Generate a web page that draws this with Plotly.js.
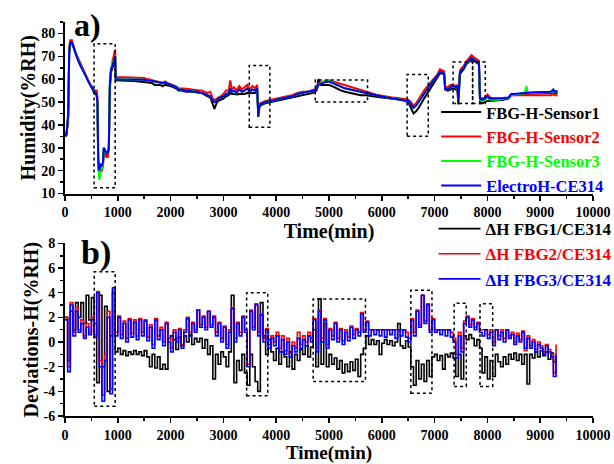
<!DOCTYPE html>
<html><head><meta charset="utf-8">
<script src="https://cdn.plot.ly/plotly-3.0.1.min.js"></script>
<style>html,body{margin:0;padding:0;background:#fff}</style>
</head><body><div id="chart" style="width:614px;height:464px"></div>
<script>
// ---------- panel a) humidity ----------
const tHum = [
 0, 30, 60, 80, 100, 130, 160, 200, 250, 300,
 350, 400, 450, 500, 550, 600, 615, 630, 650, 680,
 700, 720, 735, 750, 780, 810, 830, 850, 870, 900,
 930, 950, 960, 1000, 1100, 1200, 1300, 1400, 1500, 1550,
 1600, 1650, 1700, 1800, 1850, 1900, 1950, 2000, 2100, 2150,
 2200, 2300, 2400, 2500, 2600, 2700, 2750, 2800, 2830, 2870,
 2900, 2950, 3000, 3050, 3100, 3130, 3160, 3200, 3250, 3300,
 3350, 3400, 3450, 3500, 3550, 3600, 3640, 3660, 3680, 3700,
 3750, 3800, 3900, 4000, 4100, 4200, 4300, 4400, 4500, 4600,
 4700, 4760, 4800, 4850, 4900, 5000, 5100, 5200, 5300, 5400,
 5500, 5600, 5700, 5800, 5900, 6000, 6100, 6200, 6300, 6400,
 6500, 6550, 6600, 6650, 6700, 6800, 6900, 7000, 7050, 7100,
 7150, 7180, 7200, 7250, 7300, 7350, 7400, 7430, 7450, 7480,
 7500, 7550, 7600, 7650, 7700, 7750, 7800, 7840, 7860, 7900,
 7950, 8000, 8050, 8100, 8200, 8300, 8400, 8450, 8500, 8600,
 8700, 8740, 8760, 8800, 8900, 9000, 9100, 9200, 9250, 9270,
 9300, 9330];

const humSensor1 = [
 35, 35.5, 44, 71, 76, 76, 74.5, 71.5, 69, 66.5,
 64.5, 62, 59, 56.5, 54, 53, 49, 22, 18, 22,
 21, 23, 30, 28, 27, 27.5, 30, 57, 63, 65,
 68, 69, 59.5, 59.5, 59.5, 59.3, 59.2, 59, 58.8, 58.5,
 58.5, 58.3, 57.5, 57.5, 57, 57.5, 57.2, 57, 56, 55,
 55, 54.5, 54.5, 54.2, 53.8, 52.5, 52, 49, 47, 49.5,
 50.5, 51, 51.5, 52.5, 53, 54, 53.5, 53.5, 53.3, 53.5,
 53.5, 53.5, 54, 53.8, 54, 54, 55, 43.5, 47.5, 48.5,
 49, 49.5, 50, 50.5, 51, 51.5, 52, 52.5, 53, 53.5,
 54, 55, 60, 57.5, 57.5, 57.5, 56.5, 55.3, 54.5, 54,
 53.5, 53, 53, 52.8, 52.3, 52, 51.8, 51.5, 51.2, 50.8,
 50, 47.5, 45, 46, 47.5, 51.5, 55, 59, 60.5, 62.5,
 62.5, 62, 55.5, 55, 55.5, 56, 55.5, 56, 49, 62,
 63, 64.3, 66.5, 67.5, 68.8, 68, 67, 66.5, 49.5, 49.5,
 50, 50.5, 50.5, 50.5, 50.8, 51, 51.5, 53, 53, 53.2,
 53.5, 53.5, 53.5, 53.7, 53.8, 53.8, 54, 54, 54.5, 54,
 54, 54];

const humSensor2 = [
 35, 37, 40, 74, 77, 77, 74.5, 71.5, 68.5, 66,
 64, 61.5, 59, 57, 55, 55, 52, 22, 18, 20,
 20, 22, 29, 28, 26, 26, 29, 56, 63, 68,
 71, 73, 61, 60.8, 60.8, 60.8, 60.8, 60.8, 60.5, 60,
 60, 59.5, 59.3, 58.8, 58.5, 59, 58.2, 57.8, 57, 56,
 56, 55.8, 55.5, 55.2, 55, 54, 54.5, 51.5, 51, 51.3,
 52, 52.5, 53.5, 55, 55, 59.5, 55.5, 56.5, 55, 57,
 55.5, 56.5, 57.5, 55.5, 57, 56, 57.5, 45, 49, 49.5,
 50, 50.5, 51, 51.5, 52, 52.5, 53, 54, 54.5, 54.5,
 55.3, 55.8, 58, 58.5, 59, 59.5, 58.8, 58, 57.3, 56.5,
 56, 55.3, 54.5, 53.8, 53.2, 52.8, 52.3, 52, 51.8, 51.5,
 51, 50, 48.5, 49.5, 51.5, 55, 58, 61, 62, 64.3,
 64, 63.5, 56.8, 56.5, 57.5, 57.5, 57, 57.5, 52, 63.5,
 64.5, 65.8, 67.8, 69, 70.5, 69.5, 68.5, 68, 52, 51.5,
 52, 53.3, 52, 51.5, 51.3, 51.5, 51.8, 53, 53, 53,
 53, 53, 53, 53, 53, 53, 53, 53, 53.5, 53,
 53, 53];

const humSensor3 = [
 35, 36, 44, 72, 76, 76, 74, 71, 68.2, 65.7,
 63.5, 61.2, 58.6, 56.6, 54.4, 53, 50, 24, 16, 21,
 21, 23, 30, 29, 28, 28, 30, 60, 64.5, 67,
 69.5, 70.2, 60.2, 60, 60, 60, 60, 60, 59.8, 59.5,
 59.5, 59.3, 59, 58.5, 58.3, 58.5, 58, 57.5, 56.5, 55.5,
 55.5, 55, 54.8, 54.5, 54, 53, 52.5, 50.5, 50, 50.5,
 51.5, 52, 52.5, 53.5, 54, 56, 54.5, 55, 54, 55.5,
 54.5, 55, 56, 54.5, 55.5, 55, 56, 44.5, 48, 49,
 49.5, 50, 50.5, 51, 51.5, 52, 52.5, 53.5, 54, 54.3,
 55, 55.3, 57.5, 58.2, 59, 59.3, 58, 57, 56, 55.5,
 55, 54.5, 54, 53.2, 52.8, 52.3, 52, 51.6, 51.3, 51,
 50.5, 49, 47.5, 48.5, 50, 53.5, 57, 60, 61, 63,
 63, 62.5, 56, 55.5, 56.5, 57, 56.5, 57, 51, 63,
 64, 65, 67, 68, 69.3, 68.5, 67.5, 67, 51, 50.5,
 51, 52, 51, 51, 51, 51.5, 51.8, 53.2, 53.3, 53.5,
 53.8, 57, 54, 54, 54, 54.2, 54.3, 54.3, 55, 54.3,
 54.5, 54.3];

const humCE314 = [
 35, 36, 45, 72, 76.5, 76, 74, 71, 68, 65.5,
 63.5, 61, 58.5, 56.5, 54.5, 53, 50, 25, 20, 23,
 22, 24, 30, 29, 28, 28, 30, 58, 64, 66,
 69, 70, 60, 60, 60, 60, 60, 60, 59.8, 59.5,
 59.5, 59.3, 59, 58.5, 58.3, 58.5, 58, 57.5, 56.5, 55.5,
 55.5, 55, 54.8, 54.5, 54, 53, 52.5, 50.5, 50, 50.5,
 51.5, 52, 52.5, 53.5, 54, 56, 54.5, 55, 54, 55.5,
 54.5, 55, 56, 54.5, 55.5, 55, 56, 44, 48, 49,
 49.5, 50, 50.5, 51, 51.5, 52, 52.5, 53.5, 54, 54.3,
 55, 55.3, 57.5, 58, 58.5, 59, 58, 57, 56, 55.5,
 55, 54.5, 54, 53.2, 52.8, 52.3, 52, 51.6, 51.3, 51,
 50.5, 49, 47.5, 48.5, 50, 53.5, 57, 60, 61, 63,
 63, 62.5, 56, 55.5, 56.5, 57, 56.5, 57, 51, 63,
 64, 65, 67, 68, 69.3, 68.5, 67.5, 67, 51.5, 51,
 51.5, 52.5, 51.5, 51.5, 51.5, 51.8, 52, 53.5, 53.5, 53.8,
 54, 54, 54.2, 54.2, 54.3, 54.3, 54.5, 54.5, 55.5, 54.5,
 54.8, 54.5];

// ---------- panel b) deviations (sampled every 50 min from 0) ----------
const devStart = 0, devStep = 50;
const devFBG1 = [
 2.0, -1.5, 2.5, 1.0, 3.2, 2.0, 3.2, 1.5, 3.8, 1.8,
 3.6, 1.5, -3.3, 3.8, -2.0, 2.9, -4.0, 0.5, 4.0, -0.8,
 -0.5, -1.0, -0.7, -1.1, -0.8, -1.0, -0.7, -1.0, -0.8, -1.1,
 -0.7, -1.2, -2.0, -1.0, -2.1, -1.2, -2.2, -1.8, -2.2, 0.3,
 0.5, 0.2, -0.6, 0.4, -0.3, 0.5, 0.0, 0.6, -0.2, 0.3,
 0.0, 0.3, -0.5, 0.2, -1.0, -0.3, -3.0, -1.0, -1.8, -0.8,
 -1.2, -2.0, -0.8, 3.8, -3.3, -1.5, -2.3, -1.0, -2.5, -3.5,
 -1.0, -2.0, -3.2, -4.0, 3.2, 0.5, -1.0, 0.2, -0.8, -1.5,
 -0.5, -1.8, -0.8, -1.2, -2.0, -0.8, -2.2, -1.0, -1.5, -0.6,
 -1.0, -0.3, -1.2, -0.4, 1.0, -2.0, 3.5, -1.8, 1.5, -2.0,
 -1.0, -1.8, -1.3, -2.2, -1.5, -2.5, -1.8, -2.4, -1.6, -2.3,
 -1.4, -2.8, -1.0, -0.5, 0.5, -0.2, 0.2, -0.2, 0.1, -1.0,
 -0.1, 0.2, -0.2, 0.1, -0.3, 0.0, 1.5, -0.3, -0.5, 0.1,
 -0.4, -2.0, -3.5, -1.5, -3.0, -1.8, -3.2, -1.5, -2.8, -1.2,
 -1.0, -1.5, -1.1, -2.2, -1.0, -1.2, -0.9, -1.3, -2.8, -1.0,
 -3.0, 0.5, 0.2, 0.6, 0.3, -0.3, 0.2, -0.5, -2.5, -1.2,
 -3.0, -1.5, -2.8, -1.0, -1.6, -2.0, -1.2, -1.8, -1.0, -1.4,
 -0.9, -1.5, -1.0, -1.8, -1.0, -3.4, -1.0, -1.3, -0.8, -1.2,
 -0.7, -1.1, -0.8, -1.4, -0.9, -1.6, -1.2];

const devFBG2 = [
 2.0, -2.0, 3.2, 0.8, 2.8, 1.0, 1.8, 0.5, 1.5, 0.8,
 2.0, 0.6, 4.1, -1.5, -4.3, -1.0, 2.5, -3.8, 4.2, 0.8,
 2.1, 0.6, 1.7, 0.3, 1.9, 0.7, 1.8, 0.5, 1.9, 0.8,
 1.8, 0.4, 1.4, -0.2, 1.9, 0.5, 1.2, 0.0, 1.6, 0.3,
 -0.5, 1.0, 0.3, 1.1, -0.2, 1.0, 2.0, 0.8, 1.6, 1.0,
 2.6, 1.4, 2.1, 1.2, 2.5, 1.4, 2.1, 0.8, 1.6, 0.3,
 1.3, -0.2, 1.0, 2.8, 0.3, 1.6, 0.8, 2.1, 1.0, -1.8,
 2.6, 1.2, 3.1, 0.8, 2.3, 0.3, 1.1, -0.2, 0.5, 0.0,
 0.8, -0.5, 0.5, -0.7, 0.3, -0.9, 0.0, -0.5, 0.8, -0.2,
 0.5, 0.0, 0.8, 0.3, 1.9, -0.5, 2.6, 0.3, 1.9, -0.2,
 1.1, 0.5, 1.6, 0.3, 1.1, 0.1, 1.0, 0.4, 1.3, 0.6,
 1.1, 0.8, 2.4, 1.0, 1.7, 1.0, 1.0, 1.0, 1.0, 1.0,
 1.0, 1.0, 1.0, 1.0, 1.0, 1.0, 1.0, 1.0, 1.0, 0.8,
 0.3, 1.9, 0.8, 2.6, 1.4, 3.8, 1.7, 3.1, 1.0, 1.9,
 1.0, 1.0, 1.0, 1.0, 1.0, 1.0, 0.8, 0.3, -1.0, 0.8,
 -0.5, 1.7, 2.1, 1.4, 1.9, 1.2, 1.6, 1.0, 1.0, 1.0,
 0.6, 1.0, 0.0, 1.0, 0.5, 1.0, 0.3, 1.0, 0.5, 0.8,
 0.0, 0.7, 0.2, 0.9, -0.7, 0.5, -0.3, 0.2, -0.6, 0.0,
 -0.3, -0.8, -0.2, -0.6, -1.0, -2.5, -0.2];

const devFBG3 = [
 1.8, -2.4, 3.0, 0.5, 2.5, 0.8, 1.5, 0.3, 1.2, 0.6,
 1.8, 0.4, 4.0, -2.0, -4.8, -1.5, 2.0, -4.2, 4.4, 0.5,
 2.0, 0.3, 1.5, 0.0, 1.8, 0.4, 1.6, 0.2, 1.8, 0.5,
 1.7, 0.1, 1.2, -0.5, 1.8, 0.2, 1.0, -0.3, 1.5, 0.0,
 -0.8, 0.8, 0.0, 1.0, -0.5, 0.8, 1.9, 0.5, 1.5, 0.8,
 2.6, 1.2, 2.0, 1.0, 2.5, 1.2, 2.0, 0.5, 1.5, 0.0,
 1.2, -0.5, 0.8, 2.7, 0.0, 1.5, 0.5, 2.0, 0.8, -2.0,
 2.5, 1.0, 3.0, 0.5, 2.2, 0.0, 1.0, -0.5, 0.3, -0.3,
 0.5, -0.8, 0.2, -1.0, 0.0, -1.2, -0.3, -0.8, 0.3, -0.5,
 0.2, -0.3, 0.5, 0.0, 1.8, -0.8, 2.5, 0.0, 1.8, -0.5,
 1.0, 0.2, 1.5, 0.0, 1.0, -0.2, 0.8, 0.1, 1.2, 0.3,
 1.0, 0.5, 2.3, 0.8, 1.6, 0.5, 1.0, 0.6, 1.0, 0.5,
 1.0, 0.4, 1.0, 0.6, 1.0, 0.3, 1.0, 0.5, 1.0, 0.4,
 0.0, 1.8, 0.5, 2.5, 1.2, 3.8, 1.5, 3.0, 0.8, 1.8,
 0.8, 1.0, 0.6, 1.0, 0.5, 1.0, 0.4, 0.0, -1.3, 0.5,
 -0.8, 1.5, 2.0, 1.2, 1.8, 1.0, 1.5, 0.8, 0.5, 1.0,
 0.3, 0.8, -0.3, 1.0, 0.2, 0.8, 0.0, 1.0, 0.3, 0.6,
 -0.2, 0.5, 0.0, 0.8, -0.5, 0.3, -0.5, 0.0, -0.8, -0.2,
 -0.5, -1.0, -0.3, -0.8, -1.2, -2.8, -1.0];

// axis ticks
const xTicks = [0,1000,2000,3000,4000,5000,6000,7000,8000,9000,10000];
const xTickText = ['0','1000','2000','3000','4000','5000','6000','7000','8000','9000','10000'];
const humTicks = [10,20,30,40,50,60,70,80];
const devTicks = [-6,-4,-2,0,2,4,6,8];
const devTickText = ['-6','-4','-2','0','2','4','6','8'];

// dotted highlight boxes [x0, x1, y0, y1]
const boxesA = [[550,950,12.5,75.5],[3490,3880,39,66],[4740,5730,50,59.6],[6480,6880,35,62],[7350,7720,49.4,67.5],[7720,7960,49.4,67.5]];
const boxesB = [[555,950,-5.2,5.7],[3440,3840,-4.35,4.0],[4700,5690,-3.2,3.5],[6550,6950,-4.15,4.2],[7370,7600,-3.6,3.15],[7860,8100,-3.6,3.1]];

const FONT = '"Liberation Serif", "Times New Roman", serif';
const BLACK='#000000', RED='#ff0000', GREEN='#00ff00', BLUE='#0000ff';
const lbl = (t,c) => '<span style="color:'+c+'">'+t+'</span>';

const traces = [
 {x:tHum, y:humSensor1, name:lbl('FBG-H-Sensor1',BLACK), line:{color:BLACK,width:2}, xaxis:'x', yaxis:'y', legend:'legend'},
 {x:tHum, y:humSensor2, name:lbl('FBG-H-Sensor2',RED), line:{color:RED,width:2}, xaxis:'x', yaxis:'y', legend:'legend'},
 {x:tHum, y:humSensor3, name:lbl('FBG-H-Sensor3',GREEN), line:{color:GREEN,width:2}, xaxis:'x', yaxis:'y', legend:'legend'},
 {x:tHum, y:humCE314, name:lbl('ElectroH-CE314',BLUE), line:{color:BLUE,width:2}, xaxis:'x', yaxis:'y', legend:'legend'},
 {x0:devStart, dx:devStep, y:devFBG1, name:lbl('ΔH FBG1/CE314',BLACK), line:{color:BLACK,width:1.6,shape:'hv'}, xaxis:'x2', yaxis:'y2', legend:'legend2'},
 {x0:devStart, dx:devStep, y:devFBG2, name:lbl('ΔH FBG2/CE314',RED), line:{color:RED,width:1.6,shape:'hv'}, xaxis:'x2', yaxis:'y2', legend:'legend2'},
 {x0:devStart, dx:devStep, y:devFBG3, name:lbl('ΔH FBG3/CE314',BLUE), line:{color:BLUE,width:1.6,shape:'hv'}, xaxis:'x2', yaxis:'y2', legend:'legend2'}
].map(t => Object.assign({type:'scatter', mode:'lines'}, t));

const tickFont = {family:FONT, size:14, weight:'bold', color:'#000'};
const titleFont = {family:FONT, size:20, weight:'bold', color:'#000'};
const base = {showline:true, linewidth:2, linecolor:'#000', ticks:'outside', ticklen:5, tickwidth:1.5, tickcolor:'#000',
  showgrid:false, zeroline:false, tickfont:tickFont, mirror:false};
const xax = (anchor, standoff, size) => Object.assign({}, base, {anchor:anchor, range:[0,10000], tickmode:'array', tickvals:xTicks, ticktext:xTickText,
  minor:{ticks:'outside', ticklen:3, tickwidth:1.5, tickcolor:'#000', dtick:500, tick0:0, showgrid:false},
  title:{text:'Time(min)', font:Object.assign({}, titleFont, {size:size}), standoff:standoff}});

const shapes = [];
boxesA.forEach(b => shapes.push({type:'rect', xref:'x', yref:'y', x0:b[0], x1:b[1], y0:b[2], y1:b[3], line:{color:'#000', width:1.5, dash:'dot'}}));
boxesB.forEach(b => shapes.push({type:'rect', xref:'x2', yref:'y2', x0:b[0], x1:b[1], y0:b[2], y1:b[3], line:{color:'#000', width:1.5, dash:'dot'}}));

const legFont = {family:FONT, size:16.5, weight:'bold', color:'#000'};
const layout = {
  width:614, height:464, margin:{l:65, r:21, t:22, b:48, autoexpand:false},
  paper_bgcolor:'#fff', plot_bgcolor:'#fff', showlegend:true,
  xaxis: xax('y', 0, 20),
  xaxis2: xax('y2', 4, 19),
  yaxis: Object.assign({}, base, {domain:[0.5646,1], range:[10,85], tickmode:'array', tickvals:humTicks,
    minor:{ticks:'outside', ticklen:3, tickwidth:1.5, tickcolor:'#000', dtick:5, tick0:0, showgrid:false},
    title:{text:'Humidity(%RH)', font:titleFont, standoff:0}}),
  yaxis2: Object.assign({}, base, {domain:[0,0.438], range:[-6,8], tickmode:'array', tickvals:devTicks, ticktext:devTickText,
    minor:{ticks:'outside', ticklen:3, tickwidth:1.5, tickcolor:'#000', dtick:1, tick0:0, showgrid:false},
    title:{text:'Deviations-H(%RH)', font:titleFont, standoff:0}}),
  legend: {x:0.703, xanchor:'left', y:0.815, yanchor:'top', bgcolor:'rgba(0,0,0,0)', borderwidth:0, font:legFont, tracegroupgap:0, itemwidth:40},
  legend2: {x:0.698, xanchor:'left', y:0.52, yanchor:'top', bgcolor:'rgba(0,0,0,0)', borderwidth:0, font:Object.assign({}, legFont, {size:17}), tracegroupgap:0, itemwidth:42},
  shapes: shapes,
  annotations: [
    {text:'a)', xref:'paper', yref:'paper', x:0.0417, y:0.992, xanchor:'center', yanchor:'middle', showarrow:false, font:{family:FONT, size:32, weight:'bold', color:'#000'}},
    {text:'b)', xref:'paper', yref:'paper', x:0.0587, y:0.4127, xanchor:'center', yanchor:'middle', showarrow:false, font:{family:FONT, size:34, weight:'bold', color:'#000'}}
  ]
};
Plotly.newPlot('chart', traces, layout, {displayModeBar:false, staticPlot:true});
</script></body></html>
